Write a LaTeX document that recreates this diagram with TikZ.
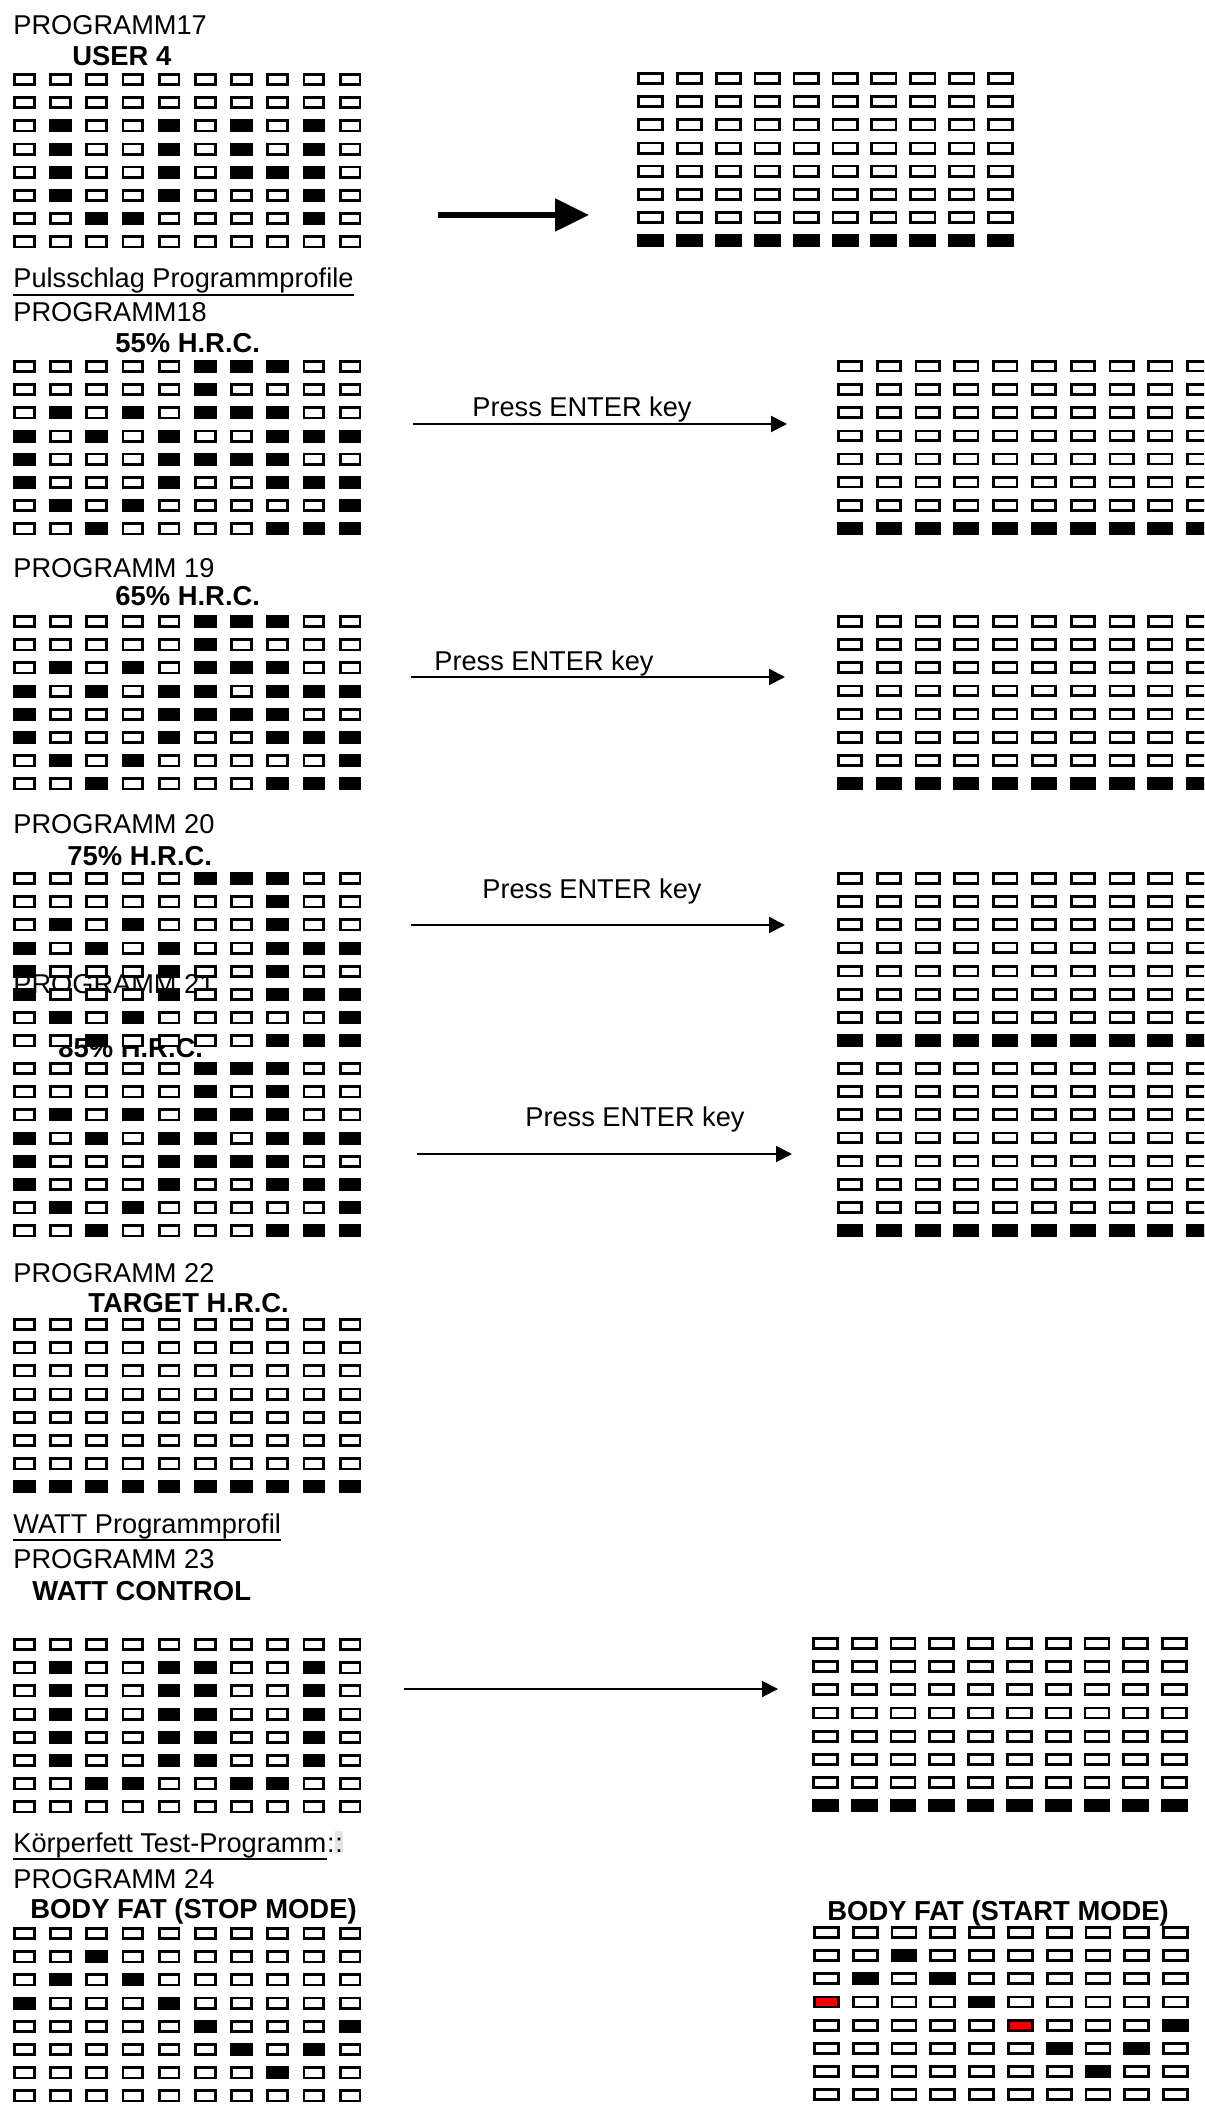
\documentclass[tikz,border=0pt]{standalone}
\usepackage{fontspec}
\setmainfont{Liberation Sans}
\usetikzlibrary{arrows.meta}
\colorlet{c0}{white}
\colorlet{c1}{black}
\definecolor{c2}{RGB}{240,0,0}
\tikzset{
  cellbox/.style={draw=black, line width=1.35pt},
  lbl/.style={anchor=base west, inner sep=0pt, font=\fontsize{13.6}{16}\selectfont},
  blbl/.style={anchor=base west, inner sep=0pt, font=\fontsize{13.7}{16}\selectfont\bfseries},
  thinarrow/.style={line width=1pt, -{Triangle[length=8pt,width=8pt]}},
  thickarrow/.style={line width=2.6pt, -{Triangle[length=17pt,width=16pt]}},
  uline/.style={line width=1pt},
}
% #1 x0, #2 y0, #3 dx, #4 w, #5 h, #6 rows
\newcommand\cellgrid[6]{%
  \foreach \row [count=\j from 0] in {#6} {%
    \foreach \v [count=\i from 0] in \row {%
      \draw[cellbox, fill=c\v] ({#1+\i*#3},{#2+\j*23.2}) rectangle ++(#4,#5);
    }%
  }%
}
\begin{document}
\begin{tikzpicture}[x=0.5pt,y=-0.5pt]
\clip (0,0) rectangle (1204,2112);
\fill[white] (0,0) rectangle (1204,2112);

% ---------- texts ----------
\node[lbl] (t17) at (13,35) {PROGRAMM17};
\node[blbl] (h17) at (72,66) {USER 4};
\node[lbl] (tP) at (13,288) {Pulsschlag Programmprofile};
\draw[uline] ([yshift=-3.5pt]tP.base west) -- ([yshift=-3.5pt]tP.base east);
\node[lbl] (t18) at (13,322) {PROGRAMM18};
\node[blbl] (h18) at (115,353) {55\% H.R.C.};
\node[lbl] (t19) at (13,577) {PROGRAMM 19};
\node[blbl] (h19) at (115,605) {65\% H.R.C.};
\node[lbl] (t20) at (13,833) {PROGRAMM 20};
\node[blbl] (h20) at (67,865) {75\% H.R.C.};
\node[lbl] (t21) at (13,993) {PROGRAMM 21};
\node[blbl] (h21) at (58,1057) {85\% H.R.C.};
\node[lbl] (t22) at (13,1282) {PROGRAMM 22};
\node[blbl] (h22) at (88,1312) {TARGET H.R.C.};
\node[lbl] (tW) at (13,1533) {WATT Programmprofil};
\draw[uline] ([yshift=-3.5pt]tW.base west) -- ([yshift=-3.5pt]tW.base east);
\node[lbl] (t23) at (13,1568) {PROGRAMM 23};
\node[blbl] (h23) at (32,1600) {WATT CONTROL};
\node[lbl] (tK) at (13,1852) {Körperfett Test-Programm};
\draw[uline] ([yshift=-3.5pt]tK.base west) -- ([yshift=-3.5pt]tK.base east);
\node[lbl] (tKa) at (tK.base east) {:};
\node[lbl, fill=black!10, text height=10.5pt, text depth=0.5pt] (tKb) at (tKa.base east) {:};
\node[lbl] (t24) at (13,1888) {PROGRAMM 24};
\node[blbl] (h24) at (30,1918) {BODY FAT (STOP MODE)};
\node[blbl] (h24r) at (827,1920) {BODY FAT (START MODE)};

\node[lbl] (p18) at (472,417) {Press ENTER key};
\node[lbl] (p19) at (434,670) {Press ENTER key};
\node[lbl] (p20) at (482,898) {Press ENTER key};
\node[lbl] (p21) at (525,1126) {Press ENTER key};

% ---------- arrows ----------
\coordinate (a17s) at (438,215); \coordinate (a17e) at (589,215);
\draw[thickarrow] (a17s) -- (a17e);
\coordinate (a18s) at (413,424); \coordinate (a18e) at (787,424);
\draw[thinarrow] (a18s) -- (a18e);
\coordinate (a19s) at (411,677); \coordinate (a19e) at (785,677);
\draw[thinarrow] (a19s) -- (a19e);
\coordinate (a20s) at (411,925); \coordinate (a20e) at (785,925);
\draw[thinarrow] (a20s) -- (a20e);
\coordinate (a21s) at (417,1154); \coordinate (a21e) at (792,1154);
\draw[thinarrow] (a21s) -- (a21e);
\coordinate (a23s) at (404,1689); \coordinate (a23e) at (778,1689);
\draw[thinarrow] (a23s) -- (a23e);

% ---------- grids ----------
% Programm 17
\cellgrid{14.35}{74.35}{36.2}{19.8}{10.3}{
 {0,0,0,0,0,0,0,0,0,0},{0,0,0,0,0,0,0,0,0,0},
 {0,1,0,0,1,0,1,0,1,0},{0,1,0,0,1,0,1,0,1,0},
 {0,1,0,0,1,0,1,1,1,0},{0,1,0,0,1,0,0,0,1,0},
 {0,0,1,1,0,0,0,0,1,0},{0,0,0,0,0,0,0,0,0,0}}
\cellgrid{638.35}{73.35}{38.9}{24.3}{10.3}{
 {0,0,0,0,0,0,0,0,0,0},{0,0,0,0,0,0,0,0,0,0},
 {0,0,0,0,0,0,0,0,0,0},{0,0,0,0,0,0,0,0,0,0},
 {0,0,0,0,0,0,0,0,0,0},{0,0,0,0,0,0,0,0,0,0},
 {0,0,0,0,0,0,0,0,0,0},{1,1,1,1,1,1,1,1,1,1}}

% Programm 18
\cellgrid{14.35}{361.35}{36.2}{19.8}{10.3}{
 {0,0,0,0,0,1,1,1,0,0},{0,0,0,0,0,1,0,0,0,0},
 {0,1,0,1,0,1,1,1,0,0},{1,0,1,0,1,0,0,1,1,1},
 {1,0,0,0,1,1,1,1,0,0},{1,0,0,0,1,0,0,1,1,1},
 {0,1,0,1,0,0,0,0,0,1},{0,0,1,0,0,0,0,1,1,1}}
\cellgrid{838.35}{361.35}{38.8}{23.3}{9.8}{
 {0,0,0,0,0,0,0,0,0,0},{0,0,0,0,0,0,0,0,0,0},
 {0,0,0,0,0,0,0,0,0,0},{0,0,0,0,0,0,0,0,0,0},
 {0,0,0,0,0,0,0,0,0,0},{0,0,0,0,0,0,0,0,0,0},
 {0,0,0,0,0,0,0,0,0,0},{1,1,1,1,1,1,1,1,1,1}}

% Programm 19
\cellgrid{14.35}{616.35}{36.2}{19.8}{10.3}{
 {0,0,0,0,0,1,1,1,0,0},{0,0,0,0,0,1,0,0,0,0},
 {0,1,0,1,0,1,1,1,0,0},{1,0,1,0,1,1,0,1,1,1},
 {1,0,0,0,1,1,1,1,0,0},{1,0,0,0,1,0,0,1,1,1},
 {0,1,0,1,0,0,0,0,0,1},{0,0,1,0,0,0,0,1,1,1}}
\cellgrid{838.35}{616.35}{38.8}{23.3}{9.8}{
 {0,0,0,0,0,0,0,0,0,0},{0,0,0,0,0,0,0,0,0,0},
 {0,0,0,0,0,0,0,0,0,0},{0,0,0,0,0,0,0,0,0,0},
 {0,0,0,0,0,0,0,0,0,0},{0,0,0,0,0,0,0,0,0,0},
 {0,0,0,0,0,0,0,0,0,0},{1,1,1,1,1,1,1,1,1,1}}

% Programm 20
\cellgrid{14.35}{873.35}{36.2}{19.8}{10.3}{
 {0,0,0,0,0,1,1,1,0,0},{0,0,0,0,0,0,0,1,0,0},
 {0,1,0,1,0,0,0,1,0,0},{1,0,1,0,1,0,0,1,1,1},
 {1,0,0,0,1,0,0,1,0,0},{1,0,0,0,1,0,0,1,1,1},
 {0,1,0,1,0,0,0,0,0,1},{0,0,1,0,0,0,0,1,1,1}}
\cellgrid{838.35}{873.35}{38.8}{23.3}{9.8}{
 {0,0,0,0,0,0,0,0,0,0},{0,0,0,0,0,0,0,0,0,0},
 {0,0,0,0,0,0,0,0,0,0},{0,0,0,0,0,0,0,0,0,0},
 {0,0,0,0,0,0,0,0,0,0},{0,0,0,0,0,0,0,0,0,0},
 {0,0,0,0,0,0,0,0,0,0},{1,1,1,1,1,1,1,1,1,1}}

% Programm 21
\cellgrid{14.35}{1063.35}{36.2}{19.8}{10.3}{
 {0,0,0,0,0,1,1,1,0,0},{0,0,0,0,0,1,0,1,0,0},
 {0,1,0,1,0,1,1,1,0,0},{1,0,1,0,1,1,0,1,1,1},
 {1,0,0,0,1,1,1,1,0,0},{1,0,0,0,1,0,0,1,1,1},
 {0,1,0,1,0,0,0,0,0,1},{0,0,1,0,0,0,0,1,1,1}}
\cellgrid{838.35}{1063.35}{38.8}{23.3}{9.8}{
 {0,0,0,0,0,0,0,0,0,0},{0,0,0,0,0,0,0,0,0,0},
 {0,0,0,0,0,0,0,0,0,0},{0,0,0,0,0,0,0,0,0,0},
 {0,0,0,0,0,0,0,0,0,0},{0,0,0,0,0,0,0,0,0,0},
 {0,0,0,0,0,0,0,0,0,0},{1,1,1,1,1,1,1,1,1,1}}

% Programm 22
\cellgrid{14.35}{1319.35}{36.2}{19.8}{10.3}{
 {0,0,0,0,0,0,0,0,0,0},{0,0,0,0,0,0,0,0,0,0},
 {0,0,0,0,0,0,0,0,0,0},{0,0,0,0,0,0,0,0,0,0},
 {0,0,0,0,0,0,0,0,0,0},{0,0,0,0,0,0,0,0,0,0},
 {0,0,0,0,0,0,0,0,0,0},{1,1,1,1,1,1,1,1,1,1}}

% Programm 23
\cellgrid{14.35}{1639.35}{36.2}{19.8}{10.3}{
 {0,0,0,0,0,0,0,0,0,0},{0,1,0,0,1,1,0,0,1,0},
 {0,1,0,0,1,1,0,0,1,0},{0,1,0,0,1,1,0,0,1,0},
 {0,1,0,0,1,1,0,0,1,0},{0,1,0,0,1,1,0,0,1,0},
 {0,0,1,1,0,0,1,1,0,0},{0,0,0,0,0,0,0,0,0,0}}
\cellgrid{813.35}{1638.35}{38.8}{24}{10}{
 {0,0,0,0,0,0,0,0,0,0},{0,0,0,0,0,0,0,0,0,0},
 {0,0,0,0,0,0,0,0,0,0},{0,0,0,0,0,0,0,0,0,0},
 {0,0,0,0,0,0,0,0,0,0},{0,0,0,0,0,0,0,0,0,0},
 {0,0,0,0,0,0,0,0,0,0},{1,1,1,1,1,1,1,1,1,1}}

% Programm 24
\cellgrid{14.35}{1928.35}{36.2}{19.8}{10.3}{
 {0,0,0,0,0,0,0,0,0,0},{0,0,1,0,0,0,0,0,0,0},
 {0,1,0,1,0,0,0,0,0,0},{1,0,0,0,1,0,0,0,0,0},
 {0,0,0,0,0,1,0,0,0,1},{0,0,0,0,0,0,1,0,1,0},
 {0,0,0,0,0,0,0,1,0,0},{0,0,0,0,0,0,0,0,0,0}}
\cellgrid{814.35}{1927.35}{38.8}{24}{10}{
 {0,0,0,0,0,0,0,0,0,0},{0,0,1,0,0,0,0,0,0,0},
 {0,1,0,1,0,0,0,0,0,0},{2,0,0,0,1,0,0,0,0,0},
 {0,0,0,0,0,2,0,0,0,1},{0,0,0,0,0,0,1,0,1,0},
 {0,0,0,0,0,0,0,1,0,0},{0,0,0,0,0,0,0,0,0,0}}
\end{tikzpicture}
\end{document}
